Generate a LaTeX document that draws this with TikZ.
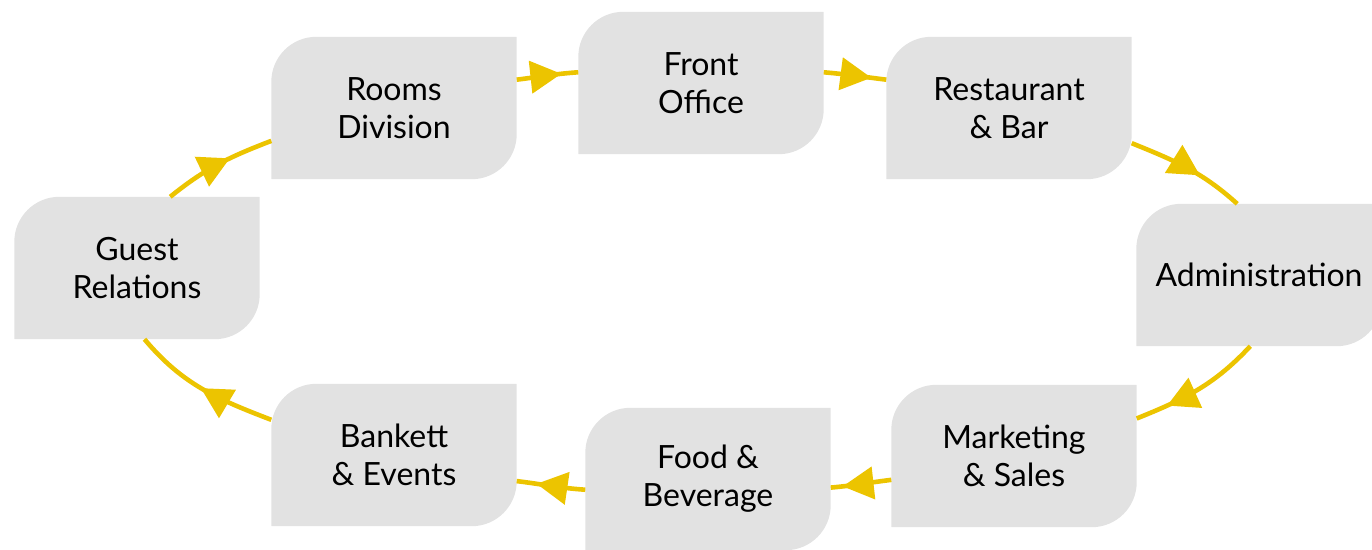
\documentclass[tikz,border=0pt]{standalone}
\usepackage{fontspec}
\setmainfont{Lato}
\usetikzlibrary{arrows.meta, backgrounds, decorations.markings}

\definecolor{boxgray}{RGB}{226,226,226}
\definecolor{ringgold}{RGB}{236,196,0}

\begin{document}
\begin{tikzpicture}[
    x=1pt, y=1pt,
    unit/.style={rectangle, minimum width=245pt, minimum height=142pt,
                 align=center, inner sep=0pt, font=\fontsize{32}{38}\selectfont},
    arr/.style={ringgold, line width=4.6pt, postaction={decorate},
                decoration={markings, mark=at position -#1 with
                {\arrow{Triangle[length=31pt, width=32pt]}}}},
]
\useasboundingbox (0,0) rectangle (1372,-549);

% Units of the hotel
\node[unit] (gr) at (137,-268) {Guest\\Relations};
\node[unit] (rd) at (394,-108) {Rooms\\Division};
\node[unit] (fo) at (701,-83)  {Front\\Office};
\node[unit] (rb) at (1009,-108) {Restaurant\\\& Bar};
\node[unit] (ad) at (1259,-275) {Administration};
\node[unit] (ms) at (1014,-456) {Marketing\\\& Sales};
\node[unit] (fb) at (708,-479) {Food \&\\Beverage};
\node[unit] (be) at (394,-455) {Bankett\\\& Events};

% Leaf-shaped boxes
\begin{scope}[on background layer]
  \foreach \n in {gr,rd,fo,rb,ad,ms,fb,be}
    \fill[boxgray] (\n.south west) -- ([yshift=-45pt]\n.north west)
      arc[start angle=180, end angle=90, radius=45pt] -- (\n.north east)
      -- ([yshift=45pt]\n.south east)
      arc[start angle=0, end angle=-90, radius=45pt] -- cycle;
\end{scope}

% Cycle (follows an ellipse through the boxes)
\begin{scope}[on background layer]
  \draw[arr=45pt] (gr.65)   to[out=39, in=201]   (rd.195);
  \draw[arr=17pt] (rd.13)   to[out=7, in=184]    (fo.175);
  \draw[arr=15pt] (fo.5)    to[out=-5, in=173]   (rb.167);
  \draw[arr=47pt] (rb.-16)  to[out=-22, in=138]  (ad.107);
  \draw[arr=33pt] (ad.-97)  to[out=-133, in=22]  (ms.17);
  \draw[arr=12pt] (ms.-169) to[out=-173, in=5]   (fb.-4);
  \draw[arr=20pt] (fb.185)  to[out=176, in=-7]   (be.-12);
  \draw[arr=75pt] (be.164)  to[out=159, in=-50]  (gr.-84);
\end{scope}

\end{tikzpicture}
\end{document}
